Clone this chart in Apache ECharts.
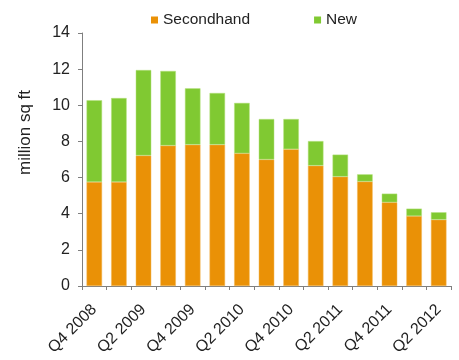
<!DOCTYPE html>
<html>
<head>
<meta charset="utf-8">
<script src="https://cdn.jsdelivr.net/npm/echarts@6/dist/echarts.min.js"></script>
<style>
  html, body { margin: 0; padding: 0; background: #fff; }
  #chart { width: 459px; height: 360px; }
</style>
</head>
<body>
<div id="chart"></div>
<script>
// Quarterly office take-up, million sq ft
const quarters = ['Q4 2008', 'Q1 2009', 'Q2 2009', 'Q3 2009', 'Q4 2009', 'Q1 2010', 'Q2 2010',
  'Q3 2010', 'Q4 2010', 'Q1 2011', 'Q2 2011', 'Q3 2011', 'Q4 2011', 'Q1 2012', 'Q2 2012'];
const secondhand = [5.76, 5.76, 7.22, 7.77, 7.82, 7.82, 7.34, 7.0, 7.57, 6.66, 6.05, 5.78, 4.63, 3.87, 3.67];
const newSpace = [4.52, 4.64, 4.73, 4.13, 3.12, 2.86, 2.79, 2.24, 1.67, 1.36, 1.22, 0.40, 0.48, 0.41, 0.41];
const yTicks = { min: 0, max: 14, interval: 2 };

const FONT = 'Liberation Sans, Arial, sans-serif';
const axisGrey = '#7f7f7f';

const chart = echarts.init(document.getElementById('chart'), null, { renderer: 'canvas' });
chart.setOption({
  animation: false,
  textStyle: { fontFamily: FONT },
  legend: {
    top: 7,
    left: 146,
    icon: 'rect',
    itemWidth: 7,
    itemHeight: 7,
    itemGap: 64,
    itemStyle: { borderWidth: 0 },
    textStyle: { fontSize: 15.5, color: '#222', fontFamily: FONT },
    data: ['Secondhand', 'New']
  },
  grid: { left: 82, right: 8, top: 33, bottom: 74, containLabel: false },
  graphic: [{
    type: 'text',
    left: 17,
    top: 90,
    rotation: Math.PI / 2,
    style: { text: 'million sq ft', fontSize: 17, fill: '#222', fontFamily: FONT }
  }],
  xAxis: {
    type: 'category',
    data: quarters,
    axisLine: { lineStyle: { color: axisGrey, width: 1 } },
    axisTick: { show: true, interval: 0, length: 4, lineStyle: { color: axisGrey } },
    axisLabel: { interval: 1, rotate: 45, fontSize: 16, color: '#222', margin: 21, fontFamily: FONT }
  },
  yAxis: {
    type: 'value',
    min: yTicks.min,
    max: yTicks.max,
    interval: yTicks.interval,
    splitLine: { show: false },
    axisLine: { show: true, lineStyle: { color: axisGrey, width: 1 } },
    axisTick: { show: true, length: 4, lineStyle: { color: axisGrey } },
    axisLabel: { fontSize: 16, color: '#222', margin: 12, fontFamily: FONT }
  },
  series: [
    {
      name: 'Secondhand',
      type: 'bar',
      stack: 'total',
      data: secondhand,
      barWidth: '63%',
      itemStyle: { color: '#EA9106', borderColor: '#F3B85A', borderWidth: 0.5 }
    },
    {
      name: 'New',
      type: 'bar',
      stack: 'total',
      data: newSpace,
      barWidth: '63%',
      itemStyle: { color: '#80C932', borderColor: '#B4E07F', borderWidth: 0.5 }
    }
  ]
});
</script>
</body>
</html>
